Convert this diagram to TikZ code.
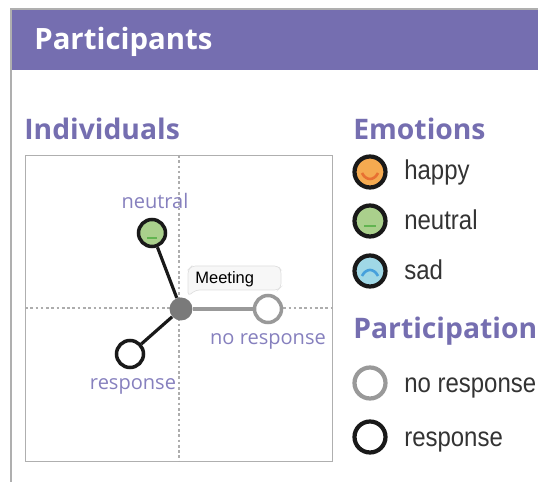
\documentclass[tikz,border=0pt]{standalone}
\usepackage{fontspec}
\setmainfont{Open Sans}
\newfontfamily\legendfont{Liberation Sans}
\usetikzlibrary{positioning}
\definecolor{headviolet}{RGB}{117,110,176}
\definecolor{labelviolet}{RGB}{134,128,190}
\definecolor{frameGray}{RGB}{175,175,175}
\definecolor{faceOrange}{RGB}{245,170,80}
\definecolor{mouthOrange}{RGB}{232,112,50}
\definecolor{faceGreen}{RGB}{170,208,140}
\definecolor{mouthGreen}{RGB}{98,180,80}
\definecolor{faceBlue}{RGB}{160,216,230}
\definecolor{mouthBlue}{RGB}{70,160,220}

\begin{document}
\begin{tikzpicture}[x=0.02cm, y=-0.02cm,
                       heading/.style = {anchor = base west, font = \fontsize{16.1}{18}\selectfont\bfseries, text = headviolet, inner sep = 0pt},
                       legendtext/.style = {anchor = base west, font = \legendfont\fontsize{15.5}{18}\selectfont, text = black!80, inner sep = 0pt, xscale = 0.88, transform shape},
                       maplabel/.style = {font = \fontsize{11.4}{13}\selectfont, text = labelviolet, inner sep = 0pt},
                       person/.style = {circle, minimum size = 0.54cm, inner sep = 0pt, line width = 2pt, draw = black!90, fill = white},
                       silent/.style = {person, draw = black!40},
                       bigperson/.style = {person, minimum size = 0.62cm, line width = 2.4pt},
                       mouth/.style = {line width = 1.5pt}
                      ]

    \useasboundingbox (0, 0) rectangle (538, 482);

    % header band
    \fill[headviolet] (11, 9) rectangle (538, 70);
    \draw[frameGray, line width = 0.6pt] (538, 9) -- (11, 9) -- (11, 482);
    \node[anchor = base west, inner sep = 0pt, text = white, font = \fontsize{16.7}{19}\selectfont\bfseries] (title) at (34, 50) {Participants};

    \node[heading] (individuals) at (24, 140) {Individuals};
    \node[heading] (emotions) at (353, 140) {Emotions};
    \node[heading] (participation) at (353, 339) {Participation};

    % map frame with the dotted axes
    \draw[frameGray, line width = 0.5pt, fill = white] (25, 155) rectangle (332, 461);
    \draw[black!32, line width = 1.6pt, dash pattern = on 1.5pt off 1.5pt] (179, 155) -- (179, 461);
    \draw[black!32, line width = 1.6pt, dash pattern = on 1.5pt off 1.5pt] (25, 308) -- (332, 308);

    % callout
    \draw[black!12, fill = black!3, rounded corners = 2pt] (188, 296) -- (188, 270) -- (192, 266) -- (278, 266) -- (281, 270) -- (281, 287) -- (278, 290) -- (196, 290) -- cycle;
    \node[anchor = base west, inner sep = 0pt, font = \legendfont\fontsize{9.4}{11}\selectfont, text = black] (meeting) at (195, 284) {Meeting};

    % map
    \node[circle, minimum size = 0.46cm, inner sep = 0pt, fill = black!52] (hub) at (181, 309) {};
    \node[person, fill = faceGreen] (mapneutral) at (152, 233) {};
    \node[person] (mapresponse) at (130, 354) {};
    \node[silent] (mapsilent) at (268, 309) {};
    \draw[black!90, line width = 1.8pt] (hub) -- (mapneutral);
    \draw[black!90, line width = 1.8pt] (hub) -- (mapresponse);
    \draw[black!40, line width = 2.2pt] (hub) -- (mapsilent);
    \draw[mouthGreen, mouth] (147, 238) -- (157, 238);
    \node[maplabel] (labelneutral) at (155, 201) {neutral};
    \node[maplabel] (labelsilent) at (268, 341) {no response};
    \node[maplabel] (labelresponse) at (133, 386) {response};

    % legend
    \node[bigperson, fill = faceOrange] (happy) at (370, 172) {};
    \node[bigperson, fill = faceGreen] (neutral) at (370, 221) {};
    \node[bigperson, fill = faceBlue] (sad) at (370, 271) {};
    \node[bigperson, draw = black!40] (noresponse) at (370, 383) {};
    \node[bigperson] (response) at (370, 437) {};
    \draw[mouthOrange, mouth] (362, 173) .. controls (366, 181) and (374, 181) .. (378, 173);
    \draw[mouthGreen, mouth] (364, 226) -- (376, 226);
    \draw[mouthBlue, mouth] (362, 276) .. controls (366, 268) and (374, 268) .. (378, 276);
    \node[legendtext] (happytext) at (404, 180) {happy};
    \node[legendtext] (neutraltext) at (404, 230) {neutral};
    \node[legendtext] (sadtext) at (404, 280) {sad};
    \node[legendtext] (noresponsetext) at (404, 393) {no response};
    \node[legendtext] (responsetext) at (404, 447) {response};

\end{tikzpicture}
\end{document}
